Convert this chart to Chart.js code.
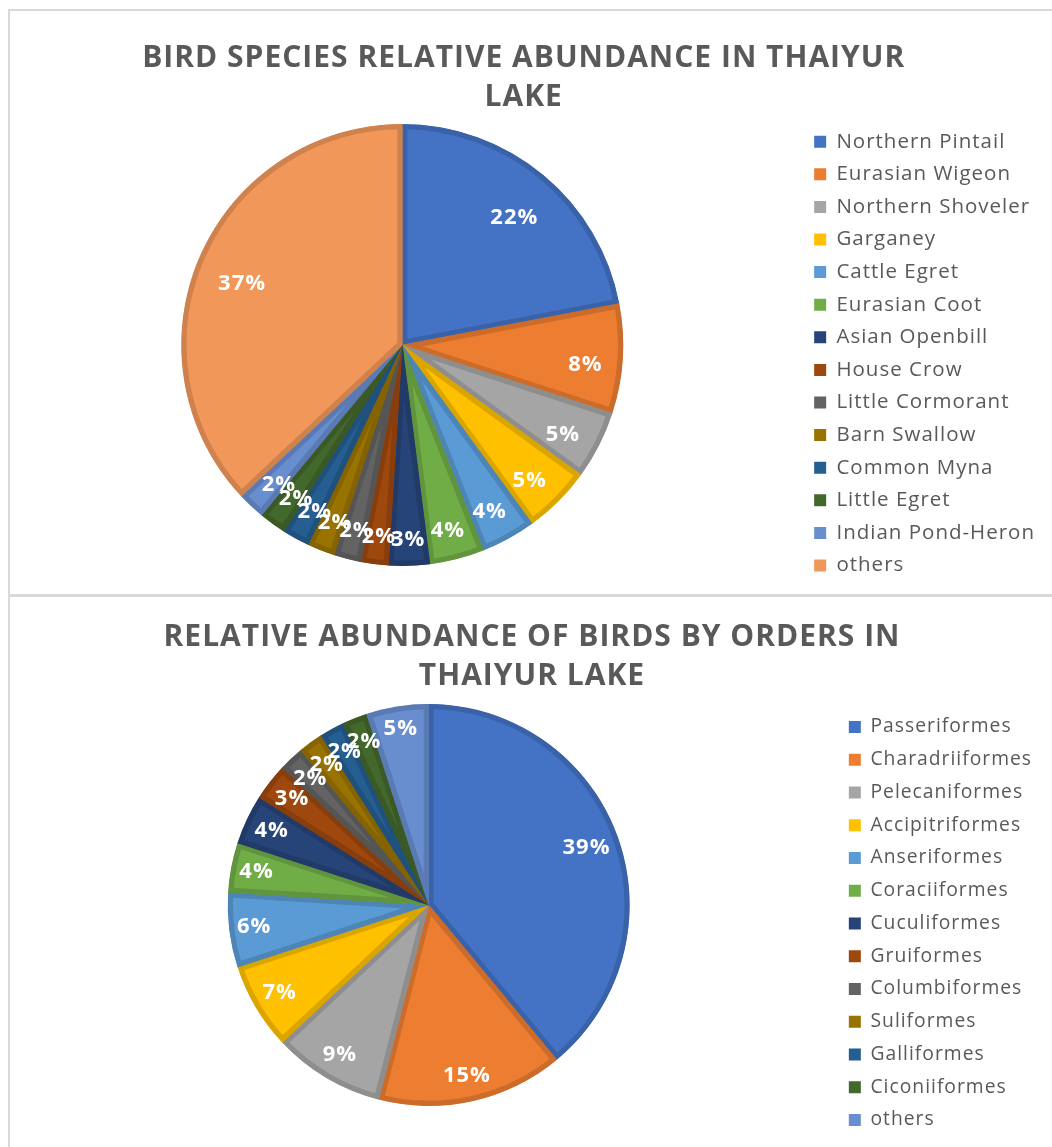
<!DOCTYPE html>
<html>
<head>
<meta charset="utf-8">
<script src="https://cdn.jsdelivr.net/npm/chart.js@4.4.1/dist/chart.umd.min.js"></script>
<style>
html,body{margin:0;padding:0;background:#fff;overflow:hidden;width:1052px;height:1147px;}
#p1{position:absolute;left:8px;top:9px;width:1100px;height:583px;border-top:2px solid #d9d9d9;border-left:2px solid #d9d9d9;border-bottom:3px solid #d9d9d9;}
#p2{position:absolute;left:8px;top:597px;width:1100px;height:600px;border-left:2px solid #d9d9d9;}
canvas{position:absolute;left:0;}
#c1{top:0;}
#c2{top:597px;}
</style>
</head>
<body>
<div id="p1"></div>
<div id="p2"></div>
<canvas id="c1" width="1052" height="597"></canvas>
<canvas id="c2" width="1052" height="550"></canvas>
<script>
// ---- data ----
const speciesTitle = ['BIRD SPECIES RELATIVE ABUNDANCE IN THAIYUR', 'LAKE'];
const speciesLabels = ['Northern Pintail', 'Eurasian Wigeon', 'Northern Shoveler', 'Garganey', 'Cattle Egret', 'Eurasian Coot', 'Asian Openbill', 'House Crow', 'Little Cormorant', 'Barn Swallow', 'Common Myna', 'Little Egret', 'Indian Pond-Heron', 'others'];
const speciesValues = [22, 8, 5, 5, 4, 4, 3, 2, 2, 2, 2, 2, 2, 37];

const orderTitle = ['RELATIVE ABUNDANCE OF BIRDS BY ORDERS IN', 'THAIYUR LAKE'];
const orderLabels = ['Passeriformes', 'Charadriiformes', 'Pelecaniformes', 'Accipitriformes', 'Anseriformes', 'Coraciiformes', 'Cuculiformes', 'Gruiformes', 'Columbiformes', 'Suliformes', 'Galliformes', 'Ciconiiformes', 'others'];
const orderValues = [39, 15, 9, 7, 6, 4, 4, 3, 2, 2, 2, 2, 5];

// ---- styles ----
const palette = ['#4472C4', '#ED7D31', '#A5A5A5', '#FFC000', '#5B9BD5', '#70AD47', '#264478', '#9E480E', '#636363', '#997300', '#255E91', '#43682B', '#698ED0', '#F1975A'];
function darken(hex, f) {
  const n = parseInt(hex.slice(1), 16);
  const r = Math.round(((n >> 16) & 255) * f), g = Math.round(((n >> 8) & 255) * f), b = Math.round((n & 255) * f);
  return 'rgb(' + r + ',' + g + ',' + b + ')';
}
const TEXT = '#595959';
const FONT = "'Open Sans', 'DejaVu Sans', sans-serif";

const spacingPlugin = {
  id: 'textSpacing',
  beforeLayout(chart, args, opts) { chart.ctx.letterSpacing = opts.value; },
  beforeDraw(chart, args, opts) { chart.ctx.letterSpacing = opts.value; }
};

// "inside end" style percentage labels: the label box is pushed inward until it fits inside the slice edge
const pctLabels = {
  id: 'pctLabels',
  afterDatasetsDraw(chart, args, opts) {
    const ctx = chart.ctx;
    const meta = chart.getDatasetMeta(0);
    const values = chart.data.datasets[0].data;
    ctx.save();
    ctx.font = 'bold ' + opts.size + 'px ' + FONT;
    ctx.fillStyle = '#ffffff';
    ctx.textAlign = 'center';
    ctx.textBaseline = 'middle';
    meta.data.forEach((arc, i) => {
      const p = arc.getProps(['x', 'y', 'startAngle', 'endAngle', 'outerRadius'], true);
      const mid = (p.startAngle + p.endAngle) / 2;
      const text = values[i] + '%';
      const w = ctx.measureText(text).width;
      const h = opts.size * opts.boxH;
      const ch = Math.abs(Math.cos(mid)), cv = Math.abs(Math.sin(mid));
      const lim = p.outerRadius - opts.margin;
      const b = w * ch + h * cv;
      const c = (w * w + h * h) / 4 - lim * lim;
      const d = (-b + Math.sqrt(b * b - 4 * c)) / 2;
      ctx.fillText(text, p.x + d * Math.cos(mid), p.y + d * Math.sin(mid) + opts.dy);
    });
    ctx.restore();
  }
};

function legendLabels(chart) {
  const base = (Chart.overrides.pie || Chart.overrides.doughnut).plugins.legend.labels.generateLabels;
  return base(chart).map(l => Object.assign({}, l, { lineWidth: 0, fontColor: TEXT }));
}

function makePie(id, title, labels, values, cfg) {
  const n = values.length;
  return new Chart(document.getElementById(id), {
    type: 'pie',
    data: {
      labels: labels,
      datasets: [{
        data: values,
        backgroundColor: palette.slice(0, n),
        borderColor: palette.slice(0, n).map(c => darken(c, 0.86)),
        borderWidth: 5,
        borderAlign: 'inner'
      }]
    },
    options: {
      responsive: false,
      animation: false,
      devicePixelRatio: 1,
      radius: cfg.radius,
      layout: { padding: cfg.padding },
      plugins: {
        title: {
          display: true,
          text: title,
          color: TEXT,
          font: { family: FONT, size: 30, weight: 'bold', lineHeight: 39 / 30 },
          padding: cfg.titlePadding
        },
        legend: {
          position: 'right',
          align: 'end',
          labels: {
            boxWidth: 12,
            boxHeight: 12,
            padding: cfg.legendPad,
            color: TEXT,
            font: { family: FONT, size: cfg.legendSize },
            generateLabels: legendLabels
          }
        },
        tooltip: { enabled: false },
        textSpacing: { value: '1px' },
        pctLabels: { size: 22, boxH: 1.25, margin: cfg.labelMargin, dy: cfg.labelDy }
      }
    },
    plugins: [spacingPlugin, pctLabels]
  });
}

makePie('c1', speciesTitle, speciesLabels, speciesValues, {
  radius: 221,
  padding: { left: 2.4, right: 7, top: 0, bottom: 9.15 },
  titlePadding: { top: 38.5, bottom: -14.35 },
  legendSize: 20.5,
  legendPad: 12.1,
  labelMargin: 19,
  labelDy: 8
});

makePie('c2', orderTitle, orderLabels, orderValues, {
  radius: 201,
  padding: { left: 22, right: 10, top: 0, bottom: 3.9 },
  titlePadding: { top: 20.5, bottom: -28.6 },
  legendSize: 19.3,
  legendPad: 13.45,
  labelMargin: 6,
  labelDy: 0
});
</script>
</body>
</html>
